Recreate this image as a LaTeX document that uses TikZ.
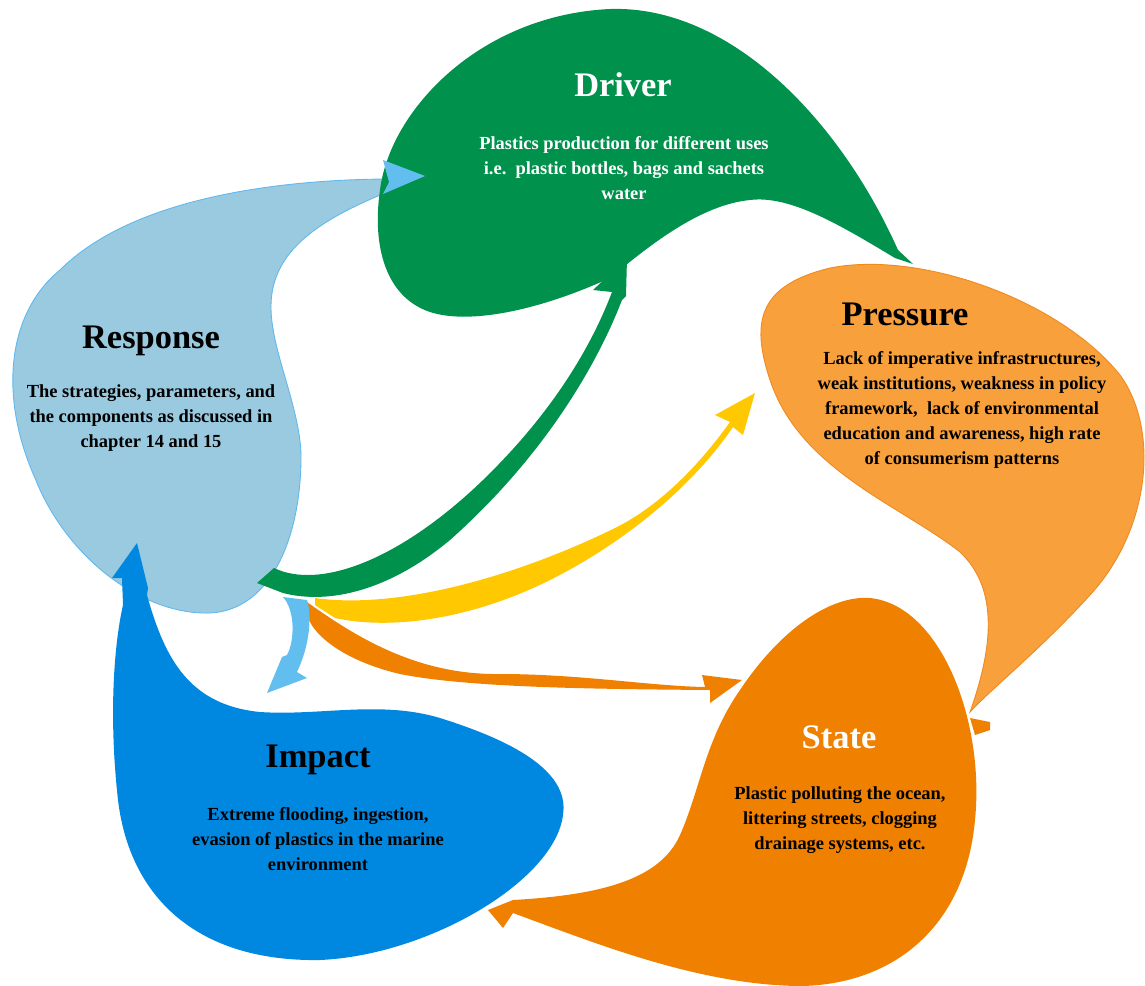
\documentclass[tikz,border=0pt]{standalone}
\usepackage{fontspec}
\setmainfont{Liberation Serif}
\usepackage{tikz}

\definecolor{respfill}{RGB}{154,202,224}
\definecolor{respline}{RGB}{95,184,240}
\definecolor{resphead}{RGB}{99,190,240}
\definecolor{drivgreen}{RGB}{0,145,76}
\definecolor{presfill}{RGB}{247,160,60}
\definecolor{presline}{RGB}{240,138,30}
\definecolor{stateorange}{RGB}{240,128,0}
\definecolor{impblue}{RGB}{0,136,224}
\definecolor{arryellow}{RGB}{255,200,0}

\tikzset{
  title/.style={font=\bfseries\fontsize{19.6}{22}\selectfont},
  body/.style={font=\bfseries\fontsize{10.5}{14.2}\selectfont, align=center}
}

\begin{document}
\begin{tikzpicture}[x=0.02cm,y=-0.02cm]
    \useasboundingbox (0,0) rectangle (1145,985);

    % draw response shape
    \filldraw[fill=respfill, draw=respline, line width=0.5pt] (385,179)
      .. controls (270,180) and (130,200) .. (60,270)
      .. controls (5,315) and (0,400) .. (35,478)
      .. controls (65,555) and (140,615) .. (210,613)
      .. controls (270,610) and (300,540) .. (301,460)
      .. controls (302,410) and (270,350) .. (271,305)
      .. controls (272,250) and (320,220) .. (385,193) -- cycle;

    % draw driver shape
    \fill[drivgreen] (610,278)
      .. controls (540,310) and (470,325) .. (430,312)
      .. controls (385,297) and (372,245) .. (380,190)
      .. controls (390,110) and (480,15) .. (610,9)
      .. controls (730,5) and (840,120) .. (898,250)
      -- (913,264) -- (895,258)
      .. controls (840,225) and (790,195) .. (750,200)
      .. controls (700,205) and (650,245) .. (610,278) -- cycle;
    \fill[resphead] (383,160) -- (425,176) -- (383,194) -- (389,182) -- cycle;

    % draw pressure shape
    \filldraw[fill=presfill, draw=presline, line width=0.5pt] (970,712)
      .. controls (992,650) and (1000,590) .. (960,552)
      .. controls (900,505) and (800,470) .. (770,380)
      .. controls (750,320) and (760,285) .. (830,268)
      .. controls (920,250) and (1060,300) .. (1120,375)
      .. controls (1160,430) and (1150,530) .. (1090,595)
      .. controls (1040,650) and (990,690) .. (970,712) -- cycle;

    % draw impact shape
    \fill[impblue] (137,543) -- (148,588) -- (147,595)
      .. controls (165,660) and (190,705) .. (260,712)
      .. controls (320,716) and (380,700) .. (440,718)
      .. controls (510,740) and (570,770) .. (563,815)
      .. controls (555,880) and (430,955) .. (320,960)
      .. controls (200,962) and (130,900) .. (118,800)
      .. controls (108,710) and (115,640) .. (123,605)
      -- (122,578) -- (112,578) -- cycle;

    % draw state shape
    \fill[stateorange] (513,900)
      .. controls (600,895) and (660,880) .. (680,835)
      .. controls (700,790) and (705,740) .. (740,690)
      .. controls (780,630) and (830,595) .. (870,598)
      .. controls (940,605) and (985,720) .. (975,820)
      .. controls (965,930) and (890,985) .. (800,986)
      .. controls (700,985) and (600,945) .. (513,913)
      -- (503,928) -- (488,910) -- cycle;
    \fill[stateorange] (970,718) -- (990,722) -- (990,730) -- (975,735) -- cycle;

    % draw arrows out of response
    \fill[arryellow] (315,598)
      .. controls (400,610) and (520,575) .. (617,527)
      .. controls (670,500) and (710,450) .. (730,422)
      -- (715,415) -- (755,393) -- (743,435) -- (733,427)
      .. controls (690,490) and (620,545) .. (550,580)
      .. controls (470,620) and (390,630) .. (335,618) -- (315,605) -- cycle;
    \fill[stateorange] (307,602)
      .. controls (360,640) and (420,675) .. (500,674)
      .. controls (580,674) and (650,686) .. (705,687)
      -- (702,675) -- (742,680) -- (710,703) -- (710,690)
      .. controls (600,689) and (470,688) .. (400,674)
      .. controls (340,660) and (305,630) .. (306,607) -- cycle;
    \fill[resphead] (283,597)
      .. controls (295,610) and (295,640) .. (287,655)
      -- (282,657) -- (267,693) -- (307,678) -- (297,672)
      .. controls (310,645) and (312,615) .. (307,600) -- cycle;
    \fill[drivgreen] (257,583) -- (274,568)
      .. controls (320,590) and (400,560) .. (483,480)
      .. controls (550,415) and (590,350) .. (612,292)
      -- (593,290) -- (627,258) -- (626,296) -- (622,300)
      .. controls (595,370) and (540,460) .. (450,540)
      .. controls (390,590) and (330,605) .. (283,593) -- cycle;

    % draw titles
    \foreach \n/\x/\y/\t/\c in {rtitle/151/341/Response/black, dtitle/623/85/Driver/white, ptitle/905/314/Pressure/black, stitle/839/737/State/white, ititle/318/760/Impact/black}
      \node[title, text=\c] (\n) at (\x,\y) {\t};

    % draw texts
    \node[body] (rtext) at (151,418) {The strategies, parameters, and\\the components as discussed in\\chapter 14 and 15};
    \node[body, text=white] (dtext) at (624,168) {Plastics production for different uses\\i.e.\ \ plastic bottles, bags and sachets\\water};
    \node[body] (ptext) at (962,410) {Lack of imperative infrastructures,\\weak institutions, weakness in policy\\framework,\ \ lack of environmental\\education and awareness, high rate\\of consumerism patterns};
    \node[body] (stext) at (840,820) {Plastic polluting the ocean,\\littering streets, clogging\\drainage systems, etc.};
    \node[body] (itext) at (318,839) {Extreme flooding, ingestion,\\evasion of plastics in the marine\\environment};
\end{tikzpicture}
\end{document}
